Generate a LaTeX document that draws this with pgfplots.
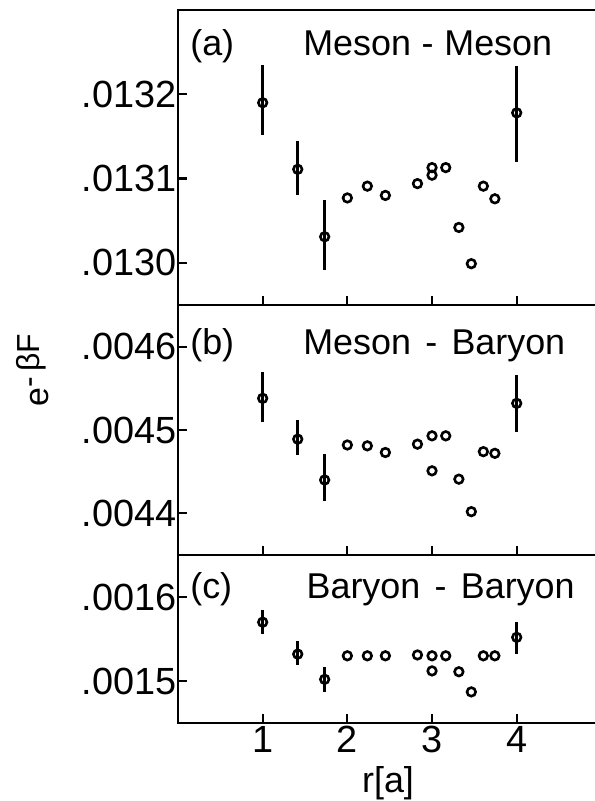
\documentclass[border=0pt]{standalone}
\usepackage{fontspec}
\setmainfont{Liberation Sans}
\usepackage{pgfplots}
\pgfplotsset{compat=1.18}
\begin{document}
\begin{tikzpicture}[font=\fontsize{36}{40}\selectfont]
\pgfplotsset{
  panel/.style={
    scale only axis, width=420bp, xmin=0, xmax=4.96,
    axis line style={line width=2.5bp},
    xtick={1,2,3,4}, xtick pos=left, ytick pos=left,
    scaled y ticks=false, scaled x ticks=false,
    tick style={line width=2.2bp, black},
    major tick length=9bp,
    tick label style={font=\fontsize{38}{42}\selectfont},
    yticklabel style={xshift=2bp},
    /pgf/number format/assume math mode=true,
    clip=false,
  },
  pts/.style={only marks, black, mark=o, mark size=4.3bp, mark options={line width=2.6bp, fill=white}},
  ebs/.style={only marks, black, mark=o, mark size=4.3bp, mark options={line width=2.6bp, fill=white},
    error bars/.cd, y dir=both, y explicit, error mark=none, error bar style={line width=2.8bp}},
}
% ---------------- panel (c) ----------------
\begin{axis}[panel, at={(0,0)}, height=168bp,
  ymin=0.00145, ymax=0.00165,
  ytick={0.0015,0.0016}, yticklabels={.0015,.0016},
  xticklabels={1,2,3,4},
  xlabel={r[a]}, xlabel style={yshift=-6bp}]
\addplot+[ebs] coordinates {
 (1.000,0.001570) +- (0,0.000014)
 (1.414,0.001532) += (0,0.000016) -= (0,0.000013)
 (1.732,0.001502) +- (0,0.000015)
 (4.000,0.001552) += (0,0.000018) -= (0,0.000020)
};
\addplot+[pts] coordinates {
 (2.000,0.001530) (2.236,0.001530) (2.449,0.001530) (2.828,0.001531)
 (3.000,0.001530) (3.000,0.001512) (3.162,0.001530) (3.317,0.001511)
 (3.464,0.001487) (3.606,0.001530) (3.742,0.001530)
};
\node[anchor=base west] at (rel axis cs:0.021,0.744) {(c)};
\node[anchor=base west] at (rel axis cs:0.298,0.744) {Baryon\hspace{0.4em}-\hspace{0.4em}Baryon};
\end{axis}
% ---------------- panel (b) ----------------
\begin{axis}[panel, at={(0,168bp)}, height=250bp,
  ymin=0.00435, ymax=0.00465,
  ytick={0.0044,0.0045,0.0046}, yticklabels={.0044,.0045,.0046},
  xticklabels={}]
\addplot+[ebs] coordinates {
 (1.000,0.004538) += (0,0.000031) -= (0,0.000029)
 (1.414,0.004489) += (0,0.000023) -= (0,0.000019)
 (1.732,0.004440) += (0,0.000031) -= (0,0.000025)
 (4.000,0.004532) += (0,0.000034) -= (0,0.000035)
};
\addplot+[pts] coordinates {
 (2.000,0.004482) (2.236,0.004481) (2.449,0.004473) (2.828,0.004483)
 (3.000,0.004493) (3.000,0.004451) (3.162,0.004493) (3.317,0.004441)
 (3.464,0.004402) (3.606,0.004474) (3.742,0.004472)
};
\node[anchor=base west] at (rel axis cs:0.021,0.80) {(b)};
\node[anchor=base west] at (rel axis cs:0.290,0.80) {Meson\hspace{0.4em}-\hspace{0.4em}Baryon};
\node[rotate=90, anchor=center] at (rel axis cs:-0.345,0.74)
  {\fontsize{34}{36}\selectfont e\raisebox{9bp}{\fontsize{32}{34}\selectfont -\,βF}};
\end{axis}
% ---------------- panel (a) ----------------
\begin{axis}[panel, at={(0,418bp)}, height=295bp,
  ymin=0.01295, ymax=0.0133,
  ytick={0.0130,0.0131,0.0132}, yticklabels={.0130,.0131,.0132},
  xticklabels={}]
\addplot+[ebs] coordinates {
 (1.000,0.013190) += (0,0.000045) -= (0,0.000038)
 (1.414,0.013111) += (0,0.000033) -= (0,0.000031)
 (1.732,0.013031) += (0,0.000043) -= (0,0.000039)
 (4.000,0.013178) += (0,0.000056) -= (0,0.000058)
};
\addplot+[pts] coordinates {
 (2.000,0.013077) (2.236,0.013091) (2.449,0.013080) (2.828,0.013094)
 (3.000,0.013104) (3.000,0.013113) (3.162,0.013113) (3.317,0.013042)
 (3.464,0.012999) (3.606,0.013091) (3.742,0.013076)
};
\node[anchor=base west] at (rel axis cs:0.021,0.847) {(a)};
\node[anchor=base west] at (rel axis cs:0.290,0.847) {Meson\hspace{0.3em}-\hspace{0.3em}Meson};
\end{axis}
\pgfresetboundingbox
\path (-178bp,-78bp) rectangle (417bp,723bp);
\end{tikzpicture}
\end{document}
